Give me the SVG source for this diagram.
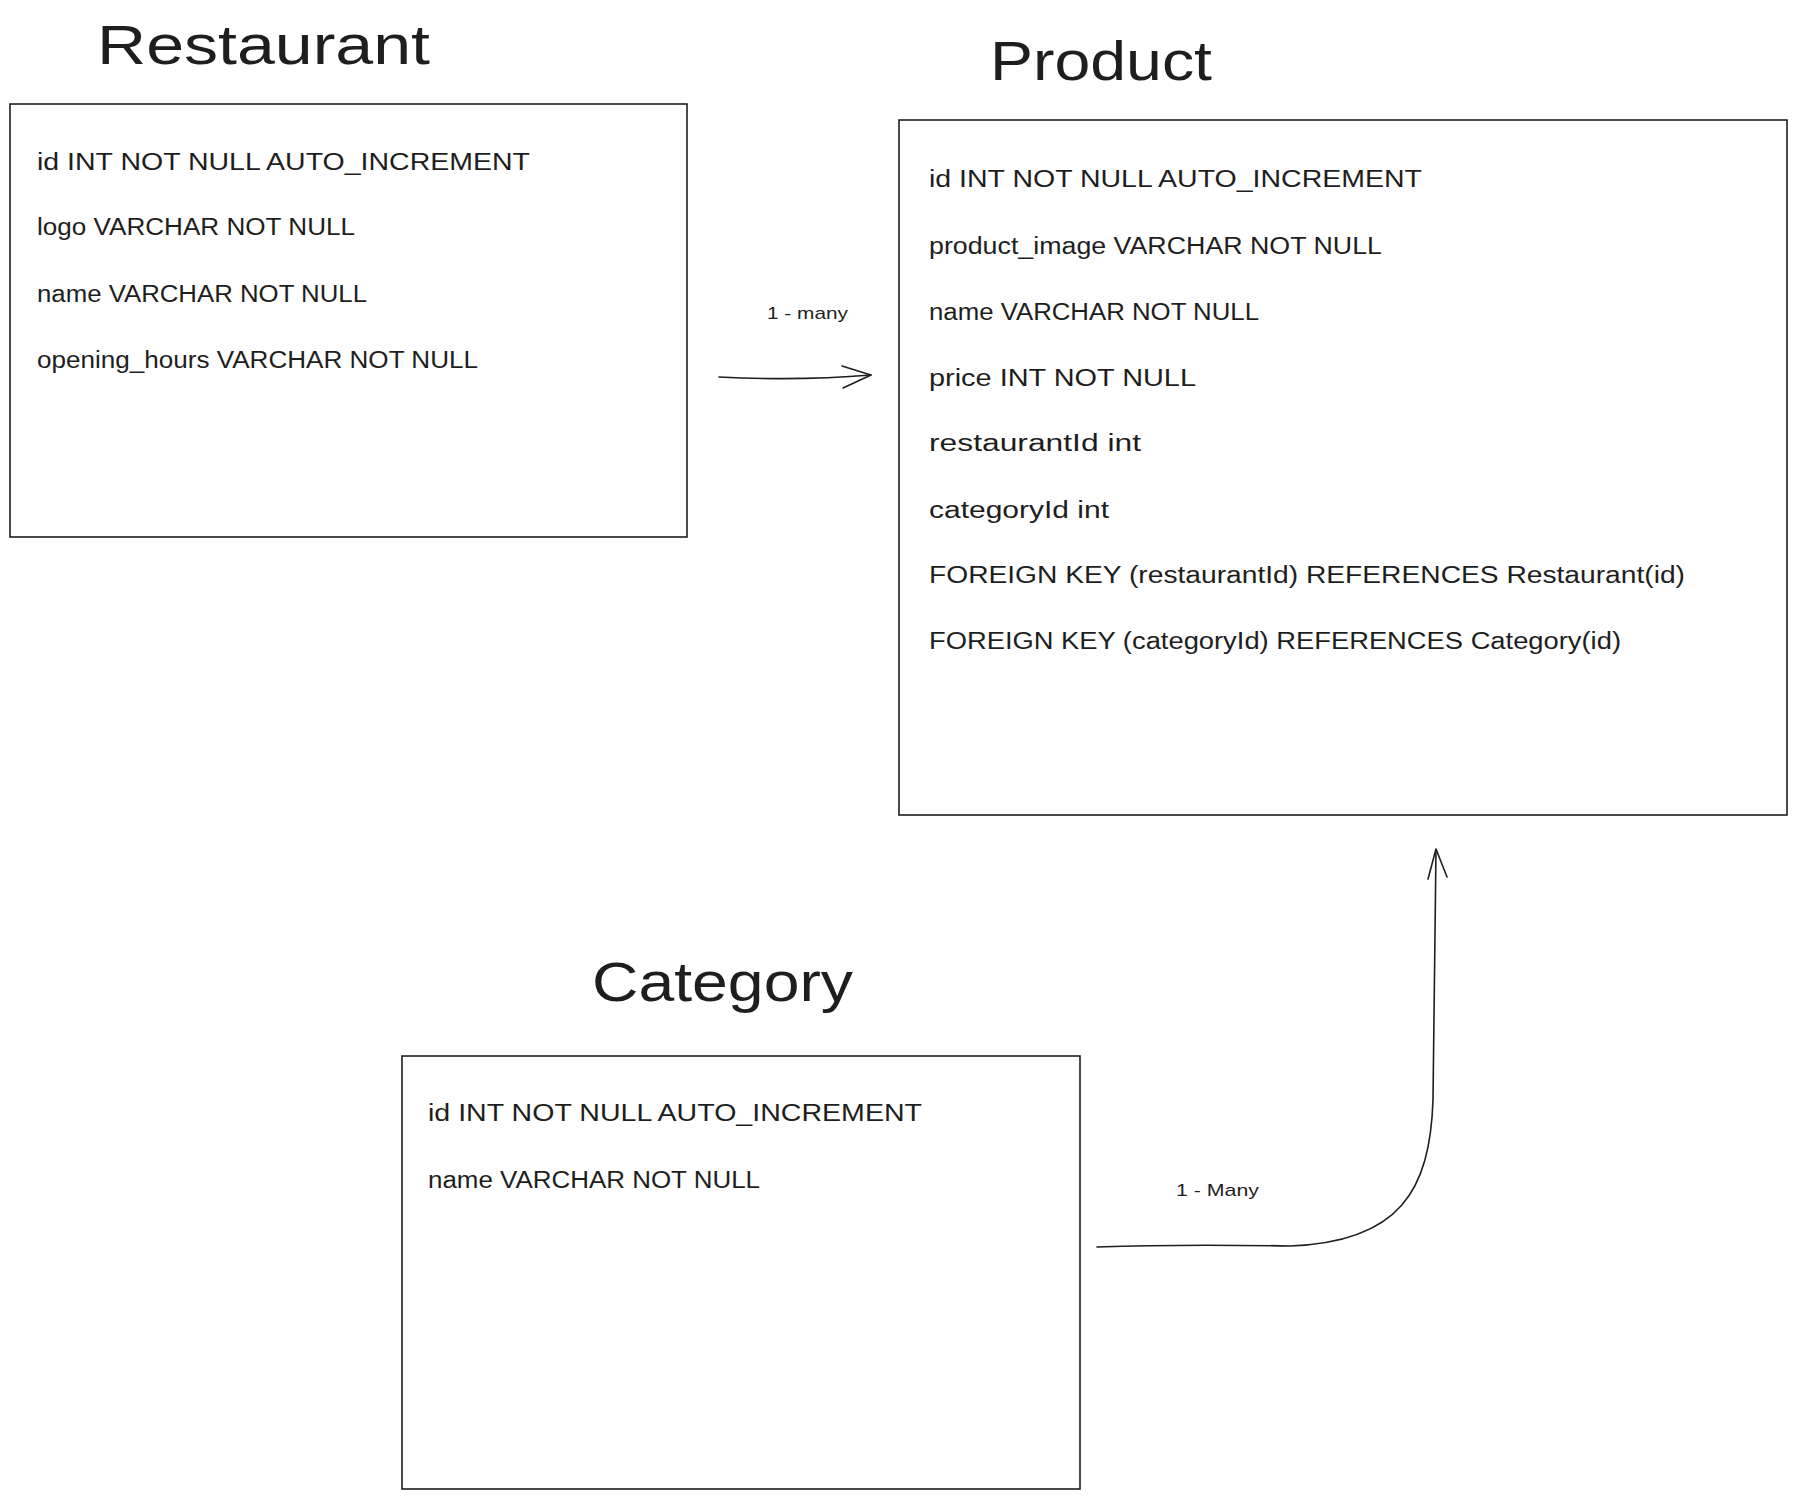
<svg xmlns="http://www.w3.org/2000/svg" width="1796" height="1500" viewBox="0 0 1796 1500">
<style>
.box{fill:#ffffff;stroke:#1e1e1e;stroke-width:1.6}
.title{font-family:"Liberation Sans",Arial,sans-serif;font-size:56px;fill:#1e1e1e}
.row{font-family:"Liberation Sans",Arial,sans-serif;font-size:23px;fill:#1e1e1e}
.lbl{font-family:"Liberation Sans",Arial,sans-serif;font-size:17px;fill:#1e1e1e}
.edge{fill:none;stroke:#1e1e1e;stroke-width:1.6;stroke-linecap:round;stroke-linejoin:round}
</style>
<rect width="1796" height="1500" fill="#ffffff"/>
<g id="restaurant">
<text class="title" x="97" y="64" textLength="333" lengthAdjust="spacingAndGlyphs">Restaurant</text>
<rect class="box" x="10" y="104" width="677" height="433"/>
<text class="row" x="37" y="170" textLength="493" lengthAdjust="spacingAndGlyphs">id INT NOT NULL AUTO_INCREMENT</text>
<text class="row" x="37" y="235" textLength="318" lengthAdjust="spacingAndGlyphs">logo VARCHAR NOT NULL</text>
<text class="row" x="37" y="302" textLength="330" lengthAdjust="spacingAndGlyphs">name VARCHAR NOT NULL</text>
<text class="row" x="37" y="368" textLength="441" lengthAdjust="spacingAndGlyphs">opening_hours VARCHAR NOT NULL</text>
</g>
<g id="product">
<text class="title" x="990" y="80" textLength="222" lengthAdjust="spacingAndGlyphs">Product</text>
<rect class="box" x="899" y="120" width="888" height="695"/>
<text class="row" x="929" y="187" textLength="493" lengthAdjust="spacingAndGlyphs">id INT NOT NULL AUTO_INCREMENT</text>
<text class="row" x="929" y="254" textLength="453" lengthAdjust="spacingAndGlyphs">product_image VARCHAR NOT NULL</text>
<text class="row" x="929" y="320" textLength="330" lengthAdjust="spacingAndGlyphs">name VARCHAR NOT NULL</text>
<text class="row" x="929" y="386" textLength="267" lengthAdjust="spacingAndGlyphs">price INT NOT NULL</text>
<text class="row" x="929" y="451" textLength="212" lengthAdjust="spacingAndGlyphs">restaurantId int</text>
<text class="row" x="929" y="518" textLength="180" lengthAdjust="spacingAndGlyphs">categoryId int</text>
<text class="row" x="929" y="583" textLength="756" lengthAdjust="spacingAndGlyphs">FOREIGN KEY (restaurantId) REFERENCES Restaurant(id)</text>
<text class="row" x="929" y="649" textLength="692" lengthAdjust="spacingAndGlyphs">FOREIGN KEY (categoryId) REFERENCES Category(id)</text>
</g>
<g id="category">
<text class="title" x="592" y="1001" textLength="261" lengthAdjust="spacingAndGlyphs">Category</text>
<rect class="box" x="402" y="1056" width="678" height="433"/>
<text class="row" x="428" y="1121" textLength="494" lengthAdjust="spacingAndGlyphs">id INT NOT NULL AUTO_INCREMENT</text>
<text class="row" x="428" y="1188" textLength="332" lengthAdjust="spacingAndGlyphs">name VARCHAR NOT NULL</text>
</g>
<g id="connectors">
<path class="edge" d="M719,377 Q800,381 871,375"/>
<polyline class="edge" points="842,366 871,375 843,388"/>
<text class="lbl" x="767" y="319" textLength="81" lengthAdjust="spacingAndGlyphs">1 - many</text>
<path class="edge" d="M1097,1247 Q1180,1244 1290,1246 C1400,1242 1430,1190 1433,1100 L1436,850"/>
<polyline class="edge" points="1428,879 1436,849 1447,877"/>
<text class="lbl" x="1176" y="1196" textLength="83" lengthAdjust="spacingAndGlyphs">1 - Many</text>
</g>
</svg>
